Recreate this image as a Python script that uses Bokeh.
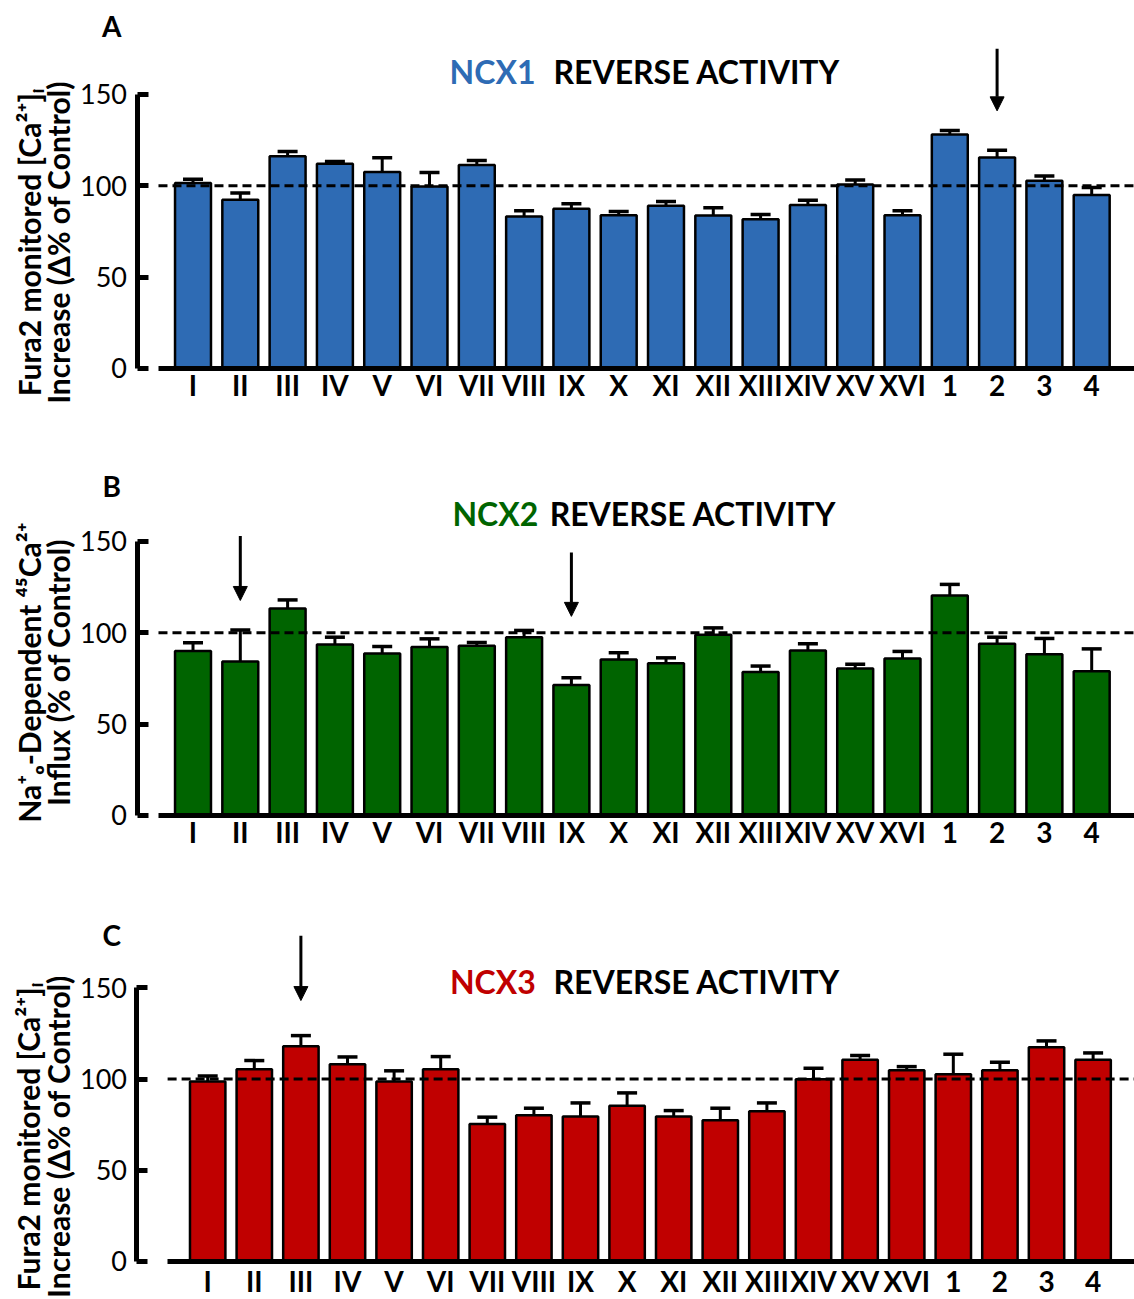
import math
from bokeh.plotting import figure
from bokeh.layouts import column
from bokeh.models import (Range1d, FixedTicker, Label, Arrow, NormalHead,
                          Whisker, TeeHead, ColumnDataSource)
from bokeh.embed import file_html
from bokeh.resources import INLINE

# ---------------- data ----------------
categories = ["I", "II", "III", "IV", "V", "VI", "VII", "VIII", "IX", "X",
              "XI", "XII", "XIII", "XIV", "XV", "XVI", "1", "2", "3", "4"]

ncx1_mean = [101.5, 92.3, 116.2, 112.0, 107.6, 99.6, 111.3, 83.2, 87.4, 83.9,
             89.0, 83.7, 81.7, 89.5, 100.7, 83.9, 128.0, 115.5, 102.7, 94.9]
ncx1_sem = [2.0, 3.7, 2.6, 1.3, 7.7, 7.7, 2.5, 3.1, 2.7, 2.0,
            2.4, 4.3, 2.6, 2.6, 2.5, 2.4, 2.3, 4.0, 2.7, 4.2]

ncx2_mean = [90.0, 84.3, 113.3, 93.6, 88.7, 92.2, 92.9, 97.6, 71.4, 85.4,
             83.4, 98.9, 78.6, 90.3, 80.5, 86.0, 120.4, 94.0, 88.3, 79.0]
ncx2_sem = [4.5, 17.3, 4.7, 4.0, 3.8, 4.5, 1.8, 3.7, 4.0, 3.7,
            2.9, 3.8, 3.2, 3.7, 2.3, 3.8, 6.1, 3.6, 8.6, 12.2]

ncx3_mean = [98.6, 105.4, 118.0, 108.1, 98.6, 105.4, 75.3, 80.2, 79.5, 85.3,
             79.5, 77.4, 82.4, 99.9, 110.5, 104.8, 102.6, 104.8, 117.4, 110.5]
ncx3_sem = [3.0, 4.7, 5.8, 4.0, 5.9, 6.9, 3.8, 3.8, 7.4, 7.1,
            3.2, 6.6, 4.5, 6.0, 2.4, 2.0, 11.0, 4.4, 3.5, 3.8]

control_level = 100
y_ticks = [0, 50, 100, 150]

panel_letters = ["A", "B", "C"]
isoforms = ["NCX1", "NCX2", "NCX3"]
isoform_colors = ["#2E6BB4", "#006400", "#C00000"]
title_rest = "REVERSE ACTIVITY"
ylabel_lines = [
    ["Fura2 monitored [Ca\u00b2\u207a]\u1d62", "Increase (\u0394% of Control)"],
    ["Na\u207a\u2092-Dependent \u2074\u2075Ca\u00b2\u207a", "Influx (% of Control)"],
    ["Fura2 monitored [Ca\u00b2\u207a]\u1d62", "Increase (\u0394% of Control)"],
]
# compounds marked by an arrow in each panel
arrow_marks = [["2"], ["II", "IX"], ["III"]]

FONT = "Lato"


def make_panel(k, mean, sem, height, x_start, x_end, y_start, y_end,
               yaxis_loc, axis_start, label_standoff, title_y, split_x,
               letter_x, letter_y, ylab_x, ylab_y, arrow_tops, arrow_bottoms):
    idx = list(range(len(categories)))
    p = figure(width=1134, height=height,
               x_range=Range1d(x_start, x_end), y_range=Range1d(y_start, y_end),
               output_backend="svg", toolbar_location=None, tools="",
               min_border_left=0, min_border_right=0, min_border_top=0,
               min_border_bottom=0)
    p.xgrid.visible = False
    p.ygrid.visible = False
    p.outline_line_color = None
    p.background_fill_color = "white"
    p.border_fill_color = "white"

    # bars
    src = ColumnDataSource(dict(x=idx, top=mean,
                                upper=[m + s for m, s in zip(mean, sem)]))
    p.vbar(x="x", top="top", bottom=0, width=0.76, source=src,
           fill_color=isoform_colors[k], line_color="black", line_width=2.5)
    wh = Whisker(base="x", lower="top", upper="upper", source=src,
                 line_color="black", line_width=3,
                 upper_head=TeeHead(size=20, line_width=3.5, line_color="black"),
                 lower_head=None)
    p.add_layout(wh)

    # control line
    p.line(x=[axis_start, x_end], y=[control_level, control_level],
           line_color="black", line_width=3, line_dash="9 5")

    # y axis (fixed position inside the frame)
    ya = p.yaxis[0]
    ya.fixed_location = yaxis_loc
    ya.ticker = FixedTicker(ticks=y_ticks)
    ya.bounds = (y_ticks[0], y_ticks[-1])
    ya.axis_line_width = 5
    ya.major_tick_line_width = 5
    ya.major_tick_in = 11
    ya.major_tick_out = 0
    ya.minor_tick_in = 0
    ya.minor_tick_out = 0
    ya.major_label_standoff = 10
    ya.major_label_text_font = FONT
    ya.major_label_text_font_size = "27px"
    ya.major_label_text_color = "black"

    # x axis (at the zero level)
    xa = p.xaxis[0]
    xa.fixed_location = 0
    xa.ticker = FixedTicker(ticks=idx)
    xa.major_label_overrides = {i: c for i, c in zip(idx, categories)}
    xa.bounds = (axis_start, x_end + 1)
    xa.axis_line_width = 5
    xa.major_tick_in = 0
    xa.major_tick_out = 0
    xa.minor_tick_in = 0
    xa.minor_tick_out = 0
    xa.major_label_standoff = label_standoff
    xa.major_label_text_font = FONT
    xa.major_label_text_font_size = "28px"
    xa.major_label_text_font_style = "bold"
    xa.major_label_text_color = "black"

    # titles
    p.add_layout(Label(x=split_x[0], y=title_y, text=isoforms[k],
                       text_font=FONT, text_font_size="32px",
                       text_font_style="bold", text_color=isoform_colors[k],
                       text_align="right", text_baseline="middle"))
    p.add_layout(Label(x=split_x[1], y=title_y, text=title_rest,
                       text_font=FONT, text_font_size="32px",
                       text_font_style="bold", text_color="black",
                       text_align="left", text_baseline="middle"))
    p.add_layout(Label(x=letter_x, y=letter_y, text=panel_letters[k],
                       text_font=FONT, text_font_size="28px",
                       text_font_style="bold", text_color="black",
                       text_align="center", text_baseline="middle"))
    for line_text, lx in zip(ylabel_lines[k], ylab_x):
        p.add_layout(Label(x=lx, y=ylab_y, text=line_text,
                           text_font=FONT, text_font_size="30px",
                           text_font_style="bold", text_color="black",
                           angle=math.pi / 2, text_align="center",
                           text_baseline="middle"))

    # arrows
    for name, yt, yb in zip(arrow_marks[k], arrow_tops, arrow_bottoms):
        xi = categories.index(name)
        p.add_layout(Arrow(x_start=xi, y_start=yt, x_end=xi, y_end=yb,
                           line_color="black", line_width=3,
                           end=NormalHead(size=14, fill_color="black",
                                          line_color="black", line_width=1)))
    return p


pA = make_panel(0, ncx1_mean, ncx1_sem, 450,
                -4.070, 19.905, -44.9, 201.4, -1.184, -0.73, 0,
                162.3, (7.24, 7.62), -1.72, 187.2, (-3.478, -2.844), 69.0,
                [175.0], [141.0])
pB = make_panel(1, ncx2_mean, ncx2_sem, 447,
                -4.070, 19.905, -44.9, 199.8, -1.184, -0.73, 0,
                165.3, (7.30, 7.54), -1.72, 180.1, (-3.478, -2.844), 78.3,
                [153.0, 143.9], [117.7, 109.0])
pC = make_panel(2, ncx3_mean, ncx3_sem, 401,
                -4.446, 19.888, -20.3, 199.5, -1.517, -0.86, 3,
                153.7, (7.04, 7.42), -2.06, 179.2, (-3.846, -3.202), 68.5,
                [178.6], [143.0])

layout = column(pA, pB, pC)
open("out.html", "w").write(file_html(layout, INLINE))
